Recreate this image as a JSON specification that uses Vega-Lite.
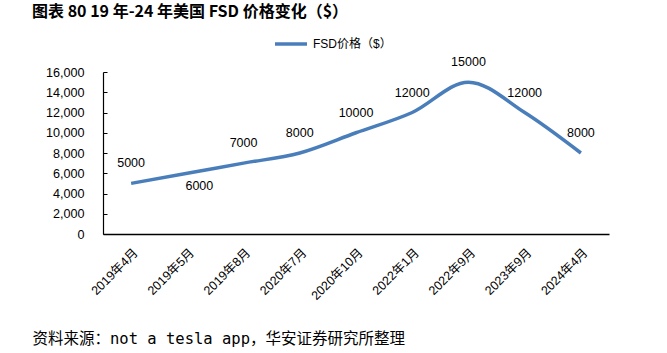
{
  "$schema": "https://vega.github.io/schema/vega-lite/v6.json",
  "autosize": {"type": "none"},
  "width": 506,
  "height": 162,
  "padding": {"left": 103, "top": 72, "right": 58, "bottom": 119},
  "background": "white",
  "config": {"view": {"stroke": null}, "font": "'Liberation Sans', 'Noto Sans CJK SC'"},
  "title": {
    "text": "图表 80 19 年-24 年美国 FSD 价格变化（$）",
    "anchor": "start",
    "frame": "group",
    "orient": "top",
    "dx": -71,
    "dy": 10,
    "offset": 0,
    "baseline": "bottom",
    "font": "'Noto Sans CJK SC'",
    "fontSize": 16,
    "fontWeight": "bold",
    "color": "#000000"
  },
  "data": {
    "values": [
      {"date": "2019年4月", "price": 5000},
      {"date": "2019年5月", "price": 6000},
      {"date": "2019年8月", "price": 7000},
      {"date": "2020年7月", "price": 8000},
      {"date": "2020年10月", "price": 10000},
      {"date": "2022年1月", "price": 12000},
      {"date": "2022年9月", "price": 15000},
      {"date": "2023年9月", "price": 12000},
      {"date": "2024年4月", "price": 8000}
    ]
  },
  "encoding": {
    "x": {
      "field": "date",
      "type": "ordinal",
      "sort": null,
      "scale": {"type": "point", "padding": 0.5},
      "axis": {
        "title": "资料来源：not a tesla app，华安证券研究所整理",
        "titleX": -71,
        "titleY": 104,
        "titleAlign": "left",
        "titleAnchor": null,
        "titleBaseline": "middle",
        "titleAngle": 0,
        "titleFont": "'DejaVu Sans Mono', 'Noto Sans CJK SC'",
        "titleFontSize": 15.5,
        "titleFontWeight": "normal",
        "titleColor": "#000000",
        "labelAngle": -45,
        "labelFontSize": 12.5,
        "labelColor": "#000000",
        "labelPadding": 12,
        "ticks": false,
        "domainColor": "#000000",
        "domainWidth": 1.5,
        "grid": false
      }
    },
    "y": {
      "field": "price",
      "type": "quantitative",
      "scale": {"domain": [0, 16000]},
      "axis": {
        "title": null,
        "values": [0, 2000, 4000, 6000, 8000, 10000, 12000, 14000, 16000],
        "format": ",d",
        "labelFontSize": 12.6,
        "labelColor": "#000000",
        "tickSize": -4,
        "tickColor": "#000000",
        "labelPadding": 23,
        "domainColor": "#000000",
        "domainWidth": 1.2,
        "grid": false
      }
    }
  },
  "layer": [
    {
      "mark": {"type": "line", "interpolate": "monotone", "strokeWidth": 3.5},
      "encoding": {
        "color": {
          "datum": "FSD价格（$）",
          "scale": {"range": ["#4a7ebb"]},
          "legend": {
            "title": null,
            "orient": "none",
            "legendX": 170,
            "legendY": -46,
            "symbolType": "stroke",
            "symbolSize": 1024,
            "symbolStrokeWidth": 3.5,
            "labelFontSize": 12,
            "labelColor": "#000000",
            "labelFont": "'Liberation Sans', 'Noto Sans CJK SC'"
          }
        }
      }
    },
    {
      "transform": [{"filter": "datum.date != '2019年5月'"}],
      "mark": {"type": "text", "dy": -20, "fontSize": 12.5, "color": "#000000"},
      "encoding": {"text": {"field": "price", "type": "nominal"}}
    },
    {
      "transform": [{"filter": "datum.date == '2019年5月'"}],
      "mark": {"type": "text", "dy": 13, "dx": 12, "fontSize": 12.5, "color": "#000000"},
      "encoding": {"text": {"field": "price", "type": "nominal"}}
    }
  ]
}
